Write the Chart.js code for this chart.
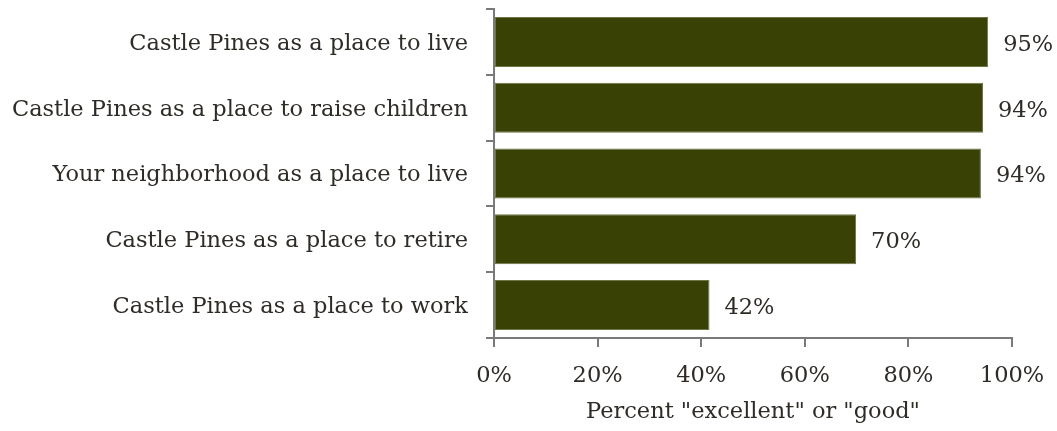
<!DOCTYPE html>
<html>
<head>
<meta charset="utf-8">
<script src="https://cdn.jsdelivr.net/npm/chart.js@4/dist/chart.umd.min.js"></script>
<style>
  html, body { margin: 0; padding: 0; background: #fff; }
  #wrap { width: 1057px; height: 431px; position: relative; }
</style>
</head>
<body>
<div id="wrap"><canvas id="ratingChart"></canvas></div>
<script>
// Community ratings, share answering "excellent" or "good"
const categories = [
  'Castle Pines as a place to live',
  'Castle Pines as a place to raise children',
  'Your neighborhood as a place to live',
  'Castle Pines as a place to retire',
  'Castle Pines as a place to work'
];
const percentGood = [95.4, 94.4, 94.0, 69.9, 41.6];
const xTicks = [0, 20, 40, 60, 80, 100];

const FONT = '"DejaVu Serif", serif';
const FONT_SIZE = 22.5;
const TEXT = '#2f2c28';
const AXIS = '#7a7a7a';

// writes the rounded percentage just past the end of each bar
const barValueLabels = {
  id: 'barValueLabels',
  afterDatasetsDraw(chart) {
    const { ctx } = chart;
    const meta = chart.getDatasetMeta(0);
    ctx.save();
    ctx.font = FONT_SIZE + 'px ' + FONT;
    ctx.fillStyle = TEXT;
    ctx.textAlign = 'left';
    ctx.textBaseline = 'middle';
    meta.data.forEach((bar, i) => {
      ctx.fillText(Math.round(percentGood[i]) + '%', bar.x + 15, bar.y + 3);
    });
    ctx.restore();
  }
};

new Chart(document.getElementById('ratingChart'), {
  type: 'bar',
  data: {
    labels: categories,
    datasets: [{
      data: percentGood,
      backgroundColor: '#3a4105',
      borderColor: '#6f7445',
      borderWidth: 1,
      borderSkipped: false,
      barPercentage: 0.76,
      categoryPercentage: 1
    }]
  },
  options: {
    indexAxis: 'y',
    responsive: true,
    maintainAspectRatio: false,
    animation: false,
    layout: { padding: { top: 9, right: 45, left: 0, bottom: 0 } },
    plugins: {
      legend: { display: false },
      tooltip: { enabled: false }
    },
    scales: {
      y: {
        grid: { drawOnChartArea: false, drawTicks: true, tickLength: 8, color: AXIS, lineWidth: 2 },
        border: { color: AXIS, width: 2 },
        ticks: { color: TEXT, font: { family: FONT, size: FONT_SIZE }, padding: 18, labelOffset: 2 },
        afterFit(scale) {
          scale.width = 494;
          scale.paddingTop = 0;
          scale.paddingBottom = 0;
        }
      },
      x: {
        min: 0,
        max: 100,
        afterBuildTicks(scale) { scale.ticks = xTicks.map(v => ({ value: v })); },
        grid: { drawOnChartArea: false, drawTicks: true, tickLength: 9, color: AXIS, lineWidth: 2 },
        border: { color: AXIS, width: 2 },
        ticks: { color: TEXT, font: { family: FONT, size: FONT_SIZE }, padding: 16, callback: v => v + '%' },
        title: {
          display: true,
          text: 'Percent "excellent" or "good"',
          color: TEXT,
          font: { family: FONT, size: FONT_SIZE },
          padding: { top: 2, bottom: 5 }
        },
        afterFit(scale) {
          scale.height = 93;
          scale.paddingLeft = 0;
          scale.paddingRight = 0;
        }
      }
    }
  },
  plugins: [barValueLabels]
});
</script>
</body>
</html>
